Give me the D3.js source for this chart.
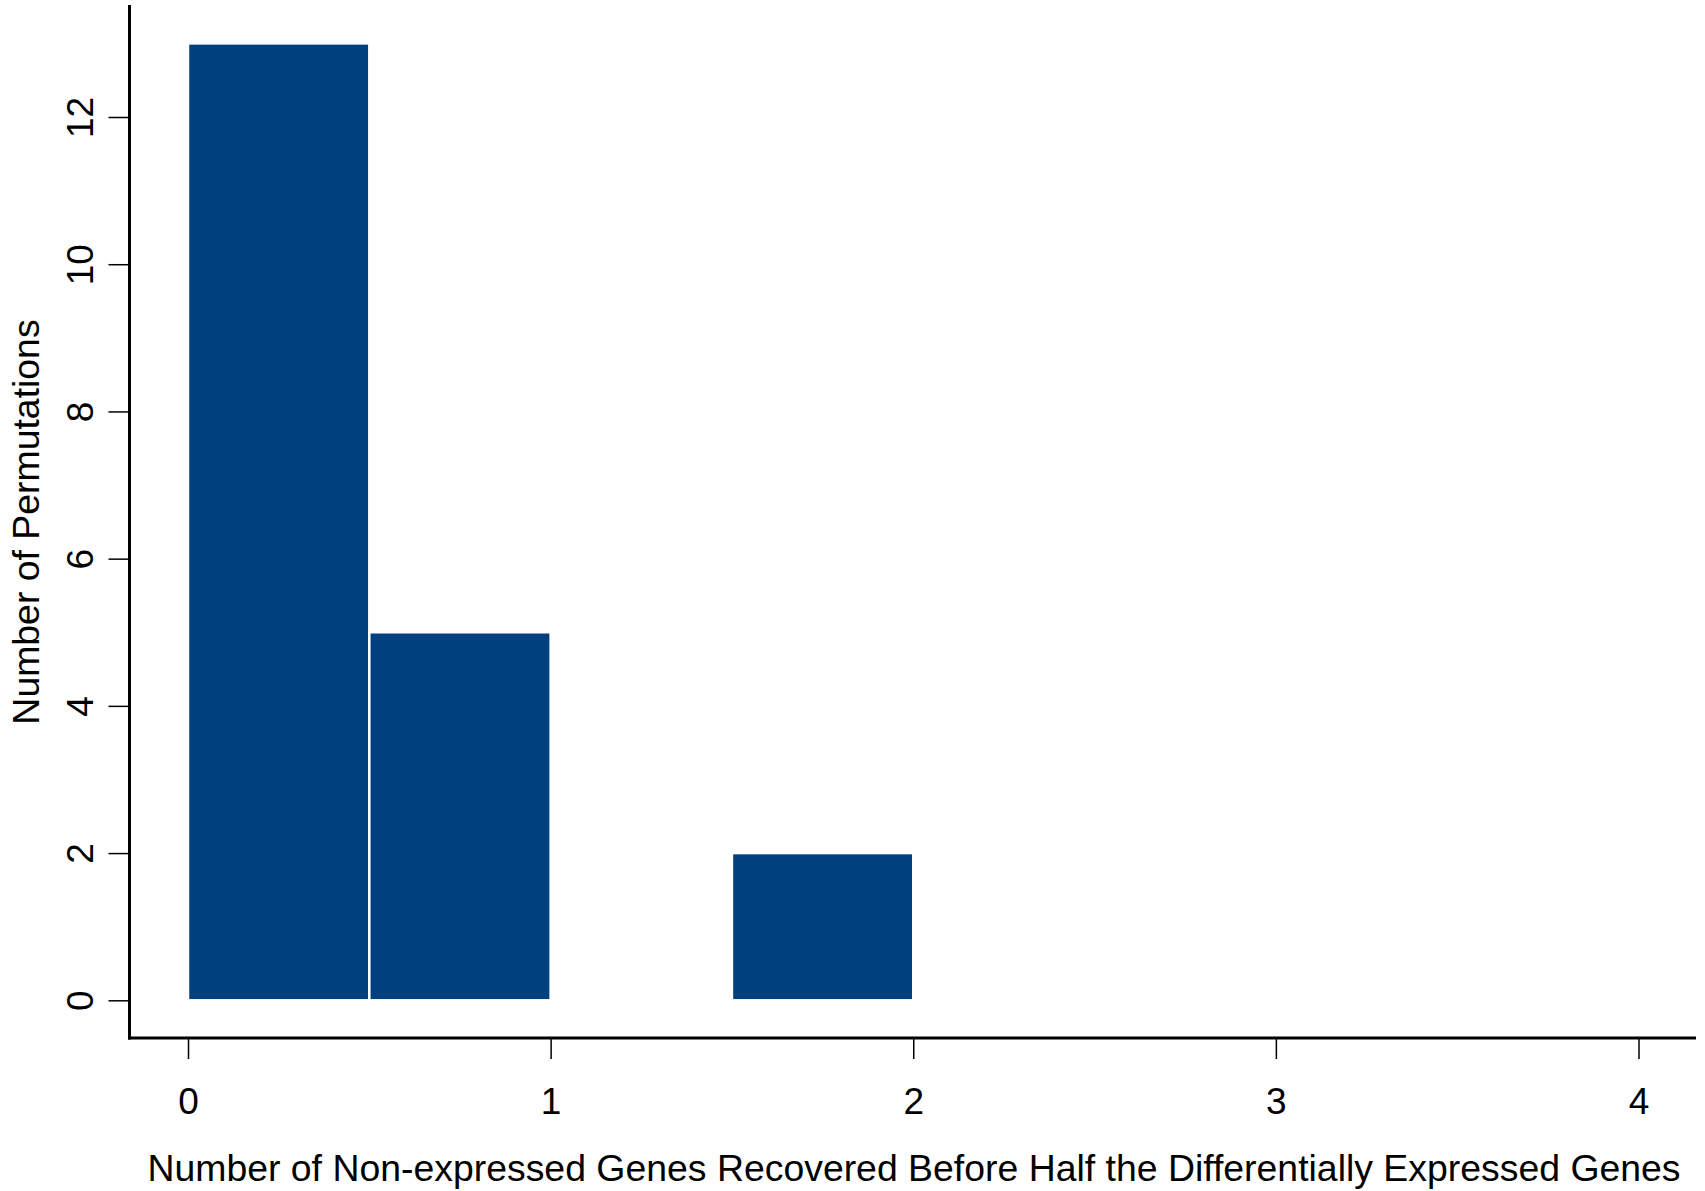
<!DOCTYPE html>
<html><head><meta charset="utf-8">
<script src="https://cdn.jsdelivr.net/npm/d3@7"></script>
<style>html,body{margin:0;padding:0;background:#fff;}svg{display:block;}</style>
</head><body>
<svg id="chart" width="1705" height="1191"></svg>
<script>
// Histogram bins (lower edge, upper edge) and counts
const binStarts = [0, 0.5, 1.0, 1.5];
const binEnds   = [0.5, 1.0, 1.5, 2.0];
const counts    = [13, 5, 0, 2];
const xTicks = [0, 1, 2, 3, 4];
const yTicks = [0, 2, 4, 6, 8, 10, 12];
const xTitle = "Number of Non-expressed Genes Recovered Before Half the Differentially Expressed Genes";
const yTitle = "Number of Permutations";

const svg = d3.select("#chart");
const font = "'Liberation Sans', Arial, Helvetica, sans-serif";
const x = d3.scaleLinear().domain([0, 4]).range([188, 1638.5]);
const y = d3.scaleLinear().domain([0, 12]).range([1000.3, 117]);

const bins = binStarts.map((s, i) => ({x0: s, x1: binEnds[i], n: counts[i]})).filter(d => d.n > 0);

svg.append("g").selectAll("rect").data(bins).join("rect")
  .attr("x", d => x(d.x0))
  .attr("y", d => y(d.n))
  .attr("width", d => x(d.x1) - x(d.x0))
  .attr("height", d => y(0) - y(d.n))
  .attr("fill", "#01407f")
  .attr("stroke", "#ffffff")
  .attr("stroke-width", 2.5);

// axis frame lines (L shape)
const axisX = 129.5, axisY = 1038;
svg.append("line").attr("x1", axisX).attr("x2", axisX).attr("y1", 5).attr("y2", axisY + 1.5)
  .attr("stroke", "#000").attr("stroke-width", 3);
svg.append("line").attr("x1", axisX - 1.5).attr("x2", 1696).attr("y1", axisY).attr("y2", axisY)
  .attr("stroke", "#000").attr("stroke-width", 3);

// x axis ticks
const gx = svg.append("g").attr("transform", `translate(0,${axisY})`)
  .call(d3.axisBottom(x).tickValues(xTicks).tickFormat(d3.format("d")).tickSize(21));
gx.select(".domain").remove();
gx.selectAll(".tick line").attr("stroke", "#000").attr("stroke-width", 1.5);
gx.selectAll(".tick text").attr("y", 76).attr("dy", 0)
  .attr("font-family", font).attr("font-size", 37).attr("fill", "#000");

// y axis ticks
const gy = svg.append("g").attr("transform", `translate(${axisX},0)`)
  .call(d3.axisLeft(y).tickValues(yTicks).tickFormat(d3.format("d")).tickSize(21));
gy.select(".domain").remove();
gy.selectAll(".tick line").attr("stroke", "#000").attr("stroke-width", 1.5);
gy.selectAll(".tick text")
  .attr("x", null).attr("dy", 0)
  .attr("transform", "translate(-37,0) rotate(-90)")
  .attr("text-anchor", "middle")
  .attr("font-family", font).attr("font-size", 37).attr("fill", "#000");

// titles
svg.append("text").attr("x", 914).attr("y", 1180.5).attr("text-anchor", "middle")
  .attr("font-family", font).attr("font-size", 37.4).attr("fill", "#000").text(xTitle);
svg.append("text").attr("transform", "translate(38.5,522) rotate(-90)").attr("text-anchor", "middle")
  .attr("font-family", font).attr("font-size", 37.4).attr("fill", "#000").text(yTitle);
</script>
</body></html>
